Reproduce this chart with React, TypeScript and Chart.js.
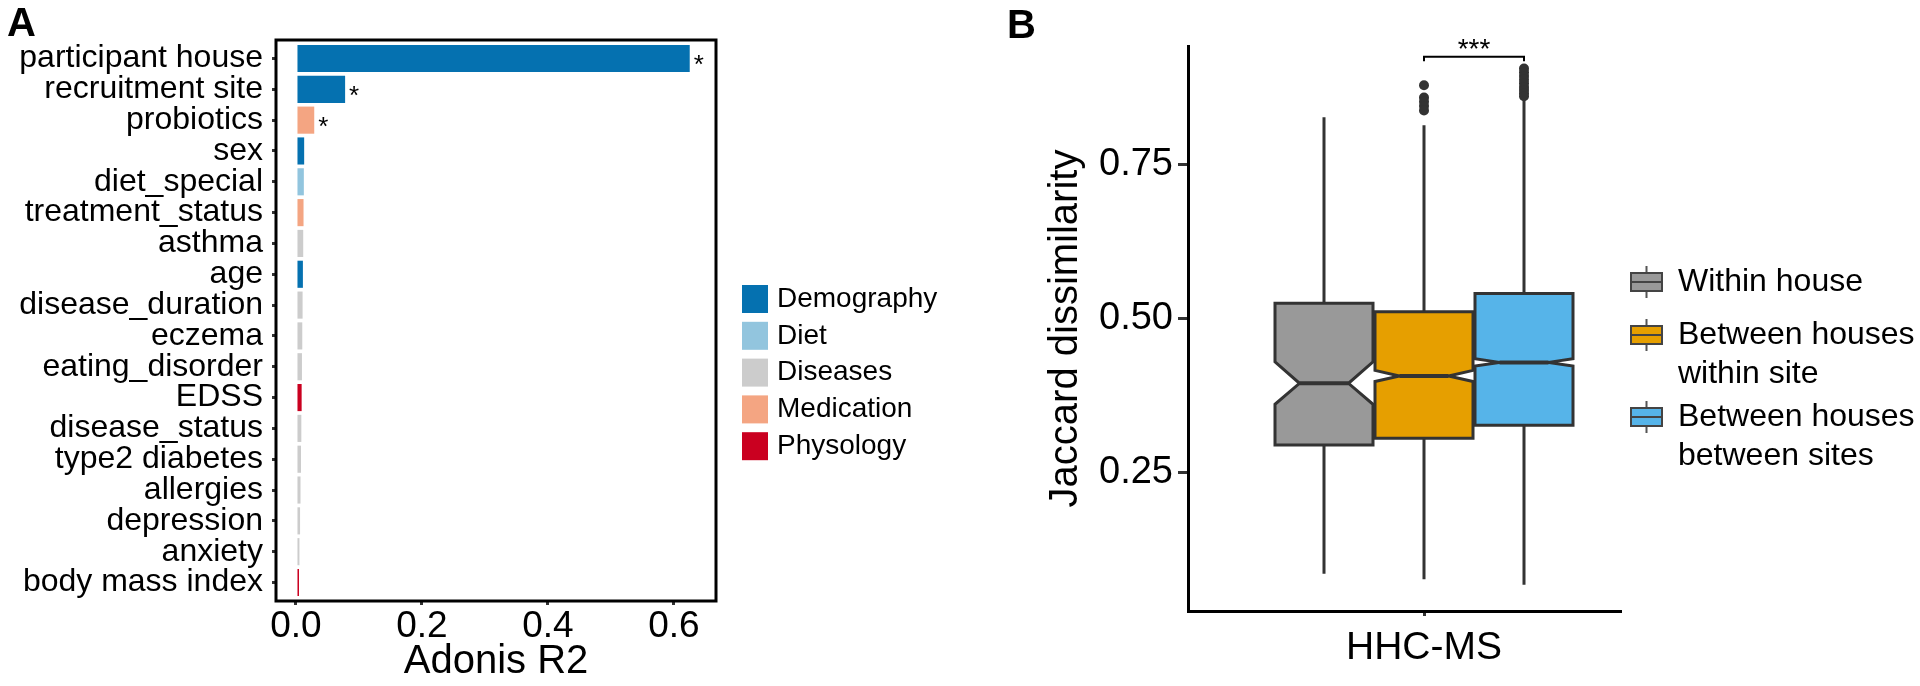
import React, { useEffect, useRef } from "react";
import { Chart, registerables } from "chart.js";

Chart.register(...registerables);

// ---------- Panel A data ----------
const categories = [
  "participant house", "recruitment site", "probiotics", "sex", "diet_special",
  "treatment_status", "asthma", "age", "disease_duration", "eczema",
  "eating_disorder", "EDSS", "disease_status", "type2 diabetes", "allergies",
  "depression", "anxiety", "body mass index",
];
const r2Values = [
  0.625, 0.078, 0.029, 0.013, 0.0125, 0.012, 0.0115, 0.011, 0.0105, 0.010,
  0.0095, 0.009, 0.0085, 0.008, 0.0072, 0.0065, 0.0055, 0.0048,
];
const groups = [
  "Demography", "Demography", "Medication", "Demography", "Diet",
  "Medication", "Diseases", "Demography", "Diseases", "Diseases",
  "Diseases", "Physology", "Diseases", "Diseases", "Diseases",
  "Diseases", "Diseases", "Physology",
];
const significant = [true, true, true, false, false, false, false, false, false, false, false, false, false, false, false, false, false, false];
const groupNames = ["Demography", "Diet", "Diseases", "Medication", "Physology"];
const groupColors = ["#0571b0", "#92c5de", "#cccccc", "#f4a582", "#ca0020"];
const xTicksA = [0, 0.2, 0.4, 0.6];

// ---------- Panel B data ----------
const boxGroups = ["Within house", "Between houses\nwithin site", "Between houses\nbetween sites"];
const boxColors = ["#999999", "#E69F00", "#56B4E9"];
const dodgeOffsets = [-1, 0, 1];
const whiskerLow = [0.085, 0.076, 0.067];
const q1 = [0.294, 0.305, 0.326];
const notchLow = [0.360, 0.397, 0.422];
const medians = [0.394, 0.406, 0.428];
const notchHigh = [0.429, 0.415, 0.434];
const q3 = [0.524, 0.510, 0.540];
const whiskerHigh = [0.826, 0.813, 0.855];
const outliersGroup2 = [0.878, 0.858, 0.851, 0.844, 0.837];
const outliersGroup3 = [0.905, 0.899, 0.893, 0.887, 0.881, 0.875, 0.870, 0.865, 0.860];
const yTicksB = [0.25, 0.5, 0.75];
const xCategoryB = "HHC-MS";
const sigPair = [1, 2];
const sigLabel = "***";
const sigLevel = 0.924;
const sigTip = 0.917;

const FONT = "'Liberation Sans', Arial, Helvetica, sans-serif";

const panelAPlugin = {
  id: "panelA",
  afterDatasetsDraw(chart: any) {
    const { ctx, chartArea, scales } = chart;
    const { x, y } = scales;
    ctx.save();
    // stars
    ctx.fillStyle = "#000";
    ctx.font = `26px ${FONT}`;
    ctx.textAlign = "left";
    ctx.textBaseline = "alphabetic";
    significant.forEach((s, i) => {
      if (!s) return;
      const px = x.getPixelForValue(r2Values[i]) + 4;
      const py = y.getPixelForValue(i) + 15;
      ctx.fillText("*", px, py);
    });
    // panel border
    ctx.strokeStyle = "#000";
    ctx.lineWidth = 3;
    ctx.strokeRect(chartArea.left, chartArea.top, chartArea.right - chartArea.left, chartArea.bottom - chartArea.top);
    ctx.restore();
  },
  afterDraw(chart: any) {
    const { ctx } = chart;
    ctx.save();
    // panel letter
    ctx.fillStyle = "#000";
    ctx.font = `bold 40px ${FONT}`;
    ctx.textBaseline = "alphabetic";
    ctx.textAlign = "left";
    ctx.fillText("A", 7, 36);
    // legend
    const lx = 742, ly = 285, step = 36.8;
    groupNames.forEach((g, i) => {
      ctx.fillStyle = groupColors[i];
      ctx.fillRect(lx, ly + i * step, 26, 28);
      ctx.fillStyle = "#000";
      ctx.font = `28px ${FONT}`;
      ctx.textBaseline = "middle";
      ctx.fillText(g, lx + 35, ly + i * step + 14);
    });
    ctx.restore();
  },
};

const panelBPlugin = {
  id: "panelB",
  beforeDatasetsDraw(chart: any) {
    const { ctx, scales } = chart;
    const { x, y } = scales;
    const half = 0.49;
    const notchW = 0.5;
    ctx.save();
    ctx.lineJoin = "miter";
    for (let i = 0; i < boxGroups.length; i++) {
      const c = dodgeOffsets[i];
      const xc = x.getPixelForValue(c);
      const xl = x.getPixelForValue(c - half);
      const xr = x.getPixelForValue(c + half);
      const nl = x.getPixelForValue(c - half * notchW);
      const nr = x.getPixelForValue(c + half * notchW);
      const yq1 = y.getPixelForValue(q1[i]);
      const yq3 = y.getPixelForValue(q3[i]);
      const ym = y.getPixelForValue(medians[i]);
      const ynl = y.getPixelForValue(notchLow[i]);
      const ynh = y.getPixelForValue(notchHigh[i]);
      ctx.strokeStyle = "#333333";
      ctx.lineWidth = 3;
      ctx.beginPath();
      ctx.moveTo(xc, y.getPixelForValue(whiskerHigh[i]));
      ctx.lineTo(xc, yq3);
      ctx.moveTo(xc, yq1);
      ctx.lineTo(xc, y.getPixelForValue(whiskerLow[i]));
      ctx.stroke();
      ctx.beginPath();
      ctx.moveTo(xl, yq3);
      ctx.lineTo(xr, yq3);
      ctx.lineTo(xr, ynh);
      ctx.lineTo(nr, ym);
      ctx.lineTo(xr, ynl);
      ctx.lineTo(xr, yq1);
      ctx.lineTo(xl, yq1);
      ctx.lineTo(xl, ynl);
      ctx.lineTo(nl, ym);
      ctx.lineTo(xl, ynh);
      ctx.closePath();
      ctx.fillStyle = boxColors[i];
      ctx.fill();
      ctx.stroke();
      ctx.lineWidth = 4;
      ctx.beginPath();
      ctx.moveTo(nl, ym);
      ctx.lineTo(nr, ym);
      ctx.stroke();
    }
    ctx.restore();
  },
  afterDraw(chart: any) {
    const { ctx, scales } = chart;
    const { x, y } = scales;
    ctx.save();
    // significance bracket
    const x1 = x.getPixelForValue(dodgeOffsets[sigPair[0]]);
    const x2 = x.getPixelForValue(dodgeOffsets[sigPair[1]]);
    const yl = y.getPixelForValue(sigLevel);
    const yt = y.getPixelForValue(sigTip);
    ctx.strokeStyle = "#000";
    ctx.lineWidth = 2;
    ctx.beginPath();
    ctx.moveTo(x1, yt);
    ctx.lineTo(x1, yl);
    ctx.lineTo(x2, yl);
    ctx.lineTo(x2, yt);
    ctx.stroke();
    ctx.fillStyle = "#000";
    ctx.font = `28px ${FONT}`;
    ctx.textAlign = "center";
    ctx.textBaseline = "alphabetic";
    ctx.fillText(sigLabel, (x1 + x2) / 2, yl + 1);
    // panel letter
    ctx.font = `bold 40px ${FONT}`;
    ctx.textAlign = "left";
    ctx.fillText("B", 47, 38);
    // legend
    const kx = 671, kw = 31, kh = 18;
    const keyCenters = [282, 335, 417];
    const lineGap = 39;
    boxGroups.forEach((g, i) => {
      const cy = keyCenters[i];
      const mid = kx + kw / 2;
      ctx.strokeStyle = "#555";
      ctx.lineWidth = 2;
      ctx.beginPath();
      ctx.moveTo(mid, cy - kh / 2 - 7);
      ctx.lineTo(mid, cy - kh / 2);
      ctx.moveTo(mid, cy + kh / 2);
      ctx.lineTo(mid, cy + kh / 2 + 7);
      ctx.stroke();
      ctx.fillStyle = boxColors[i];
      ctx.fillRect(kx, cy - kh / 2, kw, kh);
      ctx.strokeStyle = "#444";
      ctx.strokeRect(kx, cy - kh / 2, kw, kh);
      ctx.beginPath();
      ctx.moveTo(kx, cy);
      ctx.lineTo(kx + kw, cy);
      ctx.stroke();
      ctx.fillStyle = "#000";
      ctx.font = `32px ${FONT}`;
      ctx.textAlign = "left";
      ctx.textBaseline = "middle";
      g.split("\n").forEach((line, j) => {
        ctx.fillText(line, 718, cy + j * lineGap);
      });
    });
    ctx.restore();
  },
};

export default function App() {
  const refA = useRef<HTMLCanvasElement>(null);
  const refB = useRef<HTMLCanvasElement>(null);

  useEffect(() => {
    Chart.defaults.font.family = FONT;
    Chart.defaults.color = "#000";

    const barColors = groups.map((g) => groupColors[groupNames.indexOf(g)]);
    const chartA = new Chart(refA.current as HTMLCanvasElement, {
      type: "bar",
      data: {
        datasets: [
          {
            data: categories.map((_, i) => ({ x: r2Values[i], y: i })),
            backgroundColor: barColors,
            borderWidth: 0,
            categoryPercentage: 1,
            barPercentage: 0.88,
          } as any,
        ],
      },
      options: {
        indexAxis: "y",
        responsive: false,
        animation: false,
        layout: { padding: { top: 40, right: 244, bottom: 0, left: 0 } },
        plugins: { legend: { display: false }, tooltip: { enabled: false } },
        scales: {
          x: {
            type: "linear",
            position: "bottom",
            offset: false,
            min: -0.0317,
            max: 0.6667,
            afterBuildTicks: (ax: any) => {
              ax.ticks = xTicksA.map((v) => ({ value: v }));
            },
            afterFit: (s: any) => {
              s.height = 85;
            },
            grid: { offset: false, drawOnChartArea: false, drawTicks: true, tickLength: 4, lineWidth: 3, color: "#333" },
            border: { display: false },
            ticks: {
              font: { size: 37 },
              color: "#000",
              padding: 0,
              maxRotation: 0,
              autoSkip: false,
              callback: (v: any) => Number(v).toFixed(1),
            },
            title: { display: true, text: "Adonis R2", font: { size: 40 }, color: "#000", padding: 0 },
          },
          y: {
            type: "linear",
            position: "left",
            reverse: true,
            offset: false,
            min: -0.6,
            max: 17.6,
            afterBuildTicks: (ax: any) => {
              ax.ticks = categories.map((_, i) => ({ value: i }));
            },
            afterFit: (s: any) => {
              s.width = 276;
            },
            grid: { offset: false, drawOnChartArea: false, drawTicks: true, tickLength: 4, lineWidth: 3, color: "#333" },
            border: { display: false },
            ticks: {
              font: { size: 32 },
              color: "#000",
              padding: 9,
              autoSkip: false,
              callback: (v: any) => categories[Number(v)],
            },
          },
        },
      } as any,
      plugins: [panelAPlugin],
    });

    const outlierPoints = [
      ...outliersGroup2.map((v) => ({ x: dodgeOffsets[1], y: v })),
      ...outliersGroup3.map((v) => ({ x: dodgeOffsets[2], y: v })),
    ];
    const chartB = new Chart(refB.current as HTMLCanvasElement, {
      type: "scatter",
      data: {
        datasets: [
          {
            data: outlierPoints,
            pointRadius: 5,
            backgroundColor: "#333333",
            borderWidth: 0,
          } as any,
        ],
      },
      options: {
        responsive: false,
        animation: false,
        layout: { padding: { top: 46, right: 300, bottom: 0, left: 0 } },
        plugins: { legend: { display: false }, tooltip: { enabled: false } },
        scales: {
          x: {
            type: "linear",
            min: -2.36,
            max: 1.96,
            afterBuildTicks: (ax: any) => {
              ax.ticks = [{ value: dodgeOffsets[1] }];
            },
            afterFit: (s: any) => {
              s.height = 75;
            },
            grid: { drawOnChartArea: false, drawTicks: true, tickLength: 5, lineWidth: 3, color: "#333" },
            border: { display: true, color: "#000", width: 3 },
            ticks: {
              font: { size: 39 },
              color: "#000",
              padding: 9,
              maxRotation: 0,
              autoSkip: false,
              callback: () => xCategoryB,
            },
          },
          y: {
            type: "linear",
            min: 0.0244,
            max: 0.9416,
            afterBuildTicks: (ax: any) => {
              ax.ticks = yTicksB.map((v) => ({ value: v }));
            },
            afterFit: (s: any) => {
              s.width = 228;
            },
            grid: { drawOnChartArea: false, drawTicks: true, tickLength: 10, lineWidth: 3, color: "#333" },
            border: { display: true, color: "#000", width: 3 },
            ticks: {
              font: { size: 38 },
              color: "#000",
              padding: 5,
              autoSkip: false,
              callback: (v: any) => Number(v).toFixed(2),
            },
            title: {
              display: true,
              text: "Jaccard dissimilarity",
              font: { size: 40 },
              color: "#000",
              padding: { top: 82, bottom: 0 },
            },
          },
        },
      } as any,
      plugins: [panelBPlugin],
    });

    return () => {
      chartA.destroy();
      chartB.destroy();
    };
  }, []);

  return (
    <div style={{ position: "absolute", left: 0, top: 0, width: 1920, height: 686, background: "#fff", overflow: "hidden" }}>
      <canvas ref={refA} width={960} height={686} style={{ position: "absolute", left: 0, top: 0, width: 960, height: 686 }} />
      <canvas ref={refB} width={960} height={686} style={{ position: "absolute", left: 960, top: 0, width: 960, height: 686 }} />
    </div>
  );
}
